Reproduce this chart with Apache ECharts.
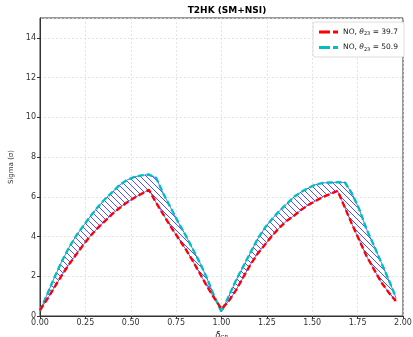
<!DOCTYPE html>
<html>
<head>
<meta charset="utf-8">
<script src="https://cdn.jsdelivr.net/npm/echarts@6/dist/echarts.min.js"></script>
<style>html,body{margin:0;padding:0;background:#fff}#c{width:413px;height:337px}</style>
</head>
<body>
<div id="c"></div>
<script>
var deltaCP = [0.00,0.04,0.08,0.12,0.16,0.20,0.24,0.28,0.32,0.36,0.40,0.44,0.48,0.52,0.56,0.60,0.64,0.68,0.72,0.76,0.80,0.84,0.88,0.92,0.96,
               1.00,1.04,1.08,1.12,1.16,1.20,1.24,1.28,1.32,1.36,1.40,1.44,1.48,1.52,1.56,1.60,1.64,1.68,1.72,1.76,1.80,1.84,1.88,1.92,1.96];
var sigma397 = [0.30,0.85,1.45,2.05,2.60,3.10,3.60,4.05,4.45,4.80,5.15,5.45,5.72,5.95,6.15,6.35,5.70,5.10,4.50,3.95,3.40,2.80,2.15,1.50,0.90,
                0.35,0.75,1.30,1.95,2.60,3.15,3.60,4.05,4.45,4.80,5.05,5.35,5.60,5.80,6.00,6.15,6.30,5.45,4.60,3.80,3.00,2.35,1.70,1.20,0.75];
var sigma509 = [0.25,1.10,1.95,2.75,3.45,4.05,4.55,5.05,5.50,5.90,6.25,6.60,6.85,7.00,7.08,7.12,6.95,6.15,5.45,4.75,4.10,3.40,2.70,1.90,1.00,
                0.20,1.00,1.80,2.50,3.20,3.90,4.45,4.90,5.30,5.65,6.00,6.25,6.45,6.62,6.70,6.72,6.73,6.72,6.15,5.35,4.35,3.55,2.70,1.85,0.95];
var xTicks = [0,0.25,0.5,0.75,1,1.25,1.5,1.75,2];
var yTicks = [0,2,4,6,8,10,12,14];

function pairs(xs, ys){ return xs.map(function(x,i){ return [x, ys[i]]; }); }

// hatch pattern
var pc = document.createElement('canvas');
pc.width = 6; pc.height = 6;
var g = pc.getContext('2d');
g.strokeStyle = 'rgba(50,50,255,0.85)';
g.lineWidth = 1;
[-6,0,6].forEach(function(o){ g.beginPath(); g.moveTo(o,0); g.lineTo(o+6,6); g.stroke(); });

var dashIcon = 'path://M0,0h11v3h-11z M14,0h5v3h-5z';
var font = 'DejaVu Sans';
var chart = echarts.init(document.getElementById('c'), null, {renderer:'canvas'});
chart.setOption({
  animation:false,
  textStyle:{fontFamily:font},
  title:{text:'T2HK (SM+NSI)', left:222, top:1, textAlign:'center',
    textStyle:{fontSize:9, fontWeight:'bold', color:'#000', fontFamily:font}},
  grid:{left:40, right:10, top:18, bottom:21, show:true, borderColor:'#333', borderWidth:1, outerBoundsMode:'none', containLabel:false},
  legend:{
    right:9, top:22, orient:'vertical', itemWidth:19, itemHeight:3, itemGap:7,
    backgroundColor:'#fff', borderColor:'#ddd', borderWidth:1, borderRadius:2, padding:[6,6,5,6],
    data:[{name:'a', icon:dashIcon}, {name:'b', icon:dashIcon}],
    formatter:function(n){
      return n==='a' ? '{t|NO, }{i|θ}{s|23}{t| = 39.7}' : '{t|NO, }{i|θ}{s|23}{t| = 50.9}';
    },
    textStyle:{color:'#222', rich:{
      t:{fontSize:7.5, fontFamily:font, color:'#222'},
      i:{fontSize:7.5, fontFamily:font, fontStyle:'italic', color:'#222'},
      s:{fontSize:5, fontFamily:font, color:'#222', padding:[4,0,0,0]}
    }}
  },
  xAxis:{type:'value', min:0, max:2, interval:0.25,
    name:'{d|δ}{s|CP}', nameLocation:'middle', nameGap:14,
    nameTextStyle:{rich:{d:{fontSize:8, fontStyle:'italic', color:'#222', fontFamily:font}, s:{fontSize:5.5, fontStyle:'italic', color:'#222', padding:[4,0,0,0], fontFamily:font}}},
    axisLine:{show:true, onZero:false, lineStyle:{color:'#333'}},
    axisTick:{show:true, length:3, lineStyle:{color:'#333'}},
    axisLabel:{fontSize:8, color:'#333', margin:3, formatter:function(v){return v.toFixed(2);}},
    splitLine:{show:true, lineStyle:{color:'#ddd', type:[2,2], width:0.8}}
  },
  yAxis:{type:'value', min:0, max:15, interval:2,
    name:'Sigma (σ)', nameLocation:'middle', nameGap:24, nameRotate:90,
    nameTextStyle:{fontSize:7, color:'#333', fontFamily:font},
    axisLine:{show:true, lineStyle:{color:'#333'}},
    axisTick:{show:true, length:3, lineStyle:{color:'#333'}},
    axisLabel:{fontSize:8, color:'#333', margin:4, showMaxLabel:false},
    splitLine:{show:true, lineStyle:{color:'#ddd', type:[2,2], width:0.8}}
  },
  series:[
    {type:'custom', name:'band', data:[0], silent:true, z:2, clip:true,
      renderItem:function(params, api){
        var pts = [];
        for (var i=0;i<deltaCP.length;i++) pts.push(api.coord([deltaCP[i], sigma509[i]]));
        for (var j=deltaCP.length-1;j>=0;j--) pts.push(api.coord([deltaCP[j], sigma397[j]]));
        return {type:'polygon', shape:{points:pts},
          style:{fill:{image:pc, repeat:'repeat'}, stroke:'rgba(50,50,255,0.9)', lineWidth:0.8}};
      }},
    {type:'line', name:'a', data:pairs(deltaCP, sigma397), symbol:'none', color:'#ff0000',
      lineStyle:{width:2.4, color:'#ff0000', type:[6,3]}, z:4},
    {type:'line', name:'b', data:pairs(deltaCP, sigma509), symbol:'none', color:'#00bfbf',
      lineStyle:{width:2.4, color:'#00bfbf', type:[6,3]}, z:3}
  ]
});
</script>
</body>
</html>
